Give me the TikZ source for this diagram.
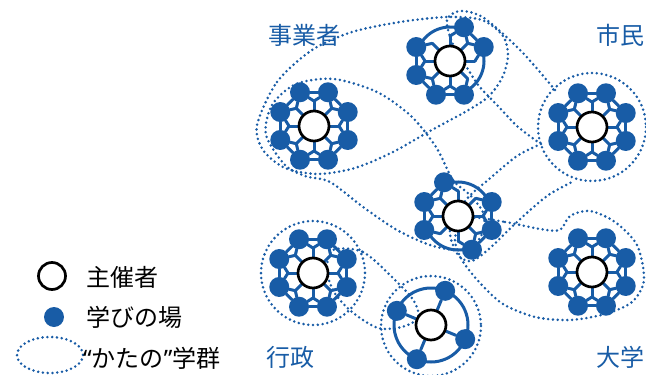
\documentclass[tikz,border=0pt]{standalone}
\usepackage{fontspec}
\setmainfont{Noto Sans CJK JP}
\newfontfamily\latinq{Noto Sans}
\definecolor{blue1}{RGB}{24,92,166}
\begin{document}
\begin{tikzpicture}[x=1pt,y=-1pt,
  dot/.style={circle, fill=blue1, inner sep=0pt, minimum size=20pt},
  hub/.style={circle, fill=white, draw=black, line width=2.7pt, inner sep=0pt, minimum size=30pt},
  web/.style={draw=blue1, line width=3pt, line cap=round, line join=round},
  grp/.style={draw=blue1, line width=2.8pt, line cap=round, dash pattern=on 0pt off 4.8pt},
  lab/.style={text=blue1, font=\fontsize{24}{26}\selectfont, inner sep=0pt},
  leg/.style={text=black, font=\fontsize{24}{26}\selectfont, inner sep=0pt, anchor=west},
  pics/web/.style 2 args={code={
    \coordinate (-o) at (0,0);
    \foreach \k in {0,...,7}{
      \pgfmathtruncatemacro\qa{(\k!=#1)&&(\k!=#2)}
      \ifnum\qa=1 \node[dot] (-d\k) at ({-22.5-45*\k}:36.5) {};\fi
      \coordinate (-p\k) at ({-45*\k}:25);
    }
    \foreach \k in {0,...,7}{
      \pgfmathtruncatemacro\qj{mod(\k+1,8)}
      \pgfmathtruncatemacro\qi{mod(\k+7,8)}
      \pgfmathtruncatemacro\qa{(\k!=#1)&&(\k!=#2)}
      \pgfmathtruncatemacro\qb{(\qj!=#1)&&(\qj!=#2)}
      \pgfmathtruncatemacro\qc{(\qi!=#1)&&(\qi!=#2)}
      \ifnum\qa=1
        \ifnum\qb=1
          \draw[web] (-d\k) -- (-d\qj);
        \else
          \draw[web] ({-22.5-45*\k}:34) arc[start angle={-22.5-45*\k}, delta angle=-90, radius=34];
        \fi
        \draw[web] (-p\k) -- (-d\k);
      \fi
      \ifnum\qc=1 \draw[web] (-p\k) -- (-d\qi);\fi
      \draw[web] (-o) -- (-p\k);
    }
    \node[hub] (-c) at (0,0) {};
  }},
  pics/quad/.style={code={
    \coordinate (-o) at (0,0);
    \draw[web] (0,0) circle[radius=37];
    \foreach \k in {1,3,5,7}{
      \node[dot] (-d\k) at ({-22.5-45*\k}:37) {};
      \draw[web] (-o) -- (-d\k);
    }
    \node[hub] (-c) at (0,0) {};
  }}
]
\useasboundingbox (0,0) rectangle (646,375);

% "katano" groups (dotted outlines)
\draw[grp] plot[smooth cycle] coordinates {(257,125) (277,82) (312,50) (352,32) (400,22) (447,17) (482,20) (503,36) (508,56) (502,78) (488,97) (465,112) (430,131) (393,152) (355,168) (318,174) (285,168) (263,150)};
\draw[grp] plot[smooth cycle] coordinates {(266,135) (272,105) (296,84) (334,79) (377,92) (411,116) (436,147) (453,180) (470,195) (484,215) (480,238) (460,250) (430,245) (397,230) (363,207) (330,182) (305,176) (285,165)};
\draw[grp] (592,127) circle[radius=54];
\draw[grp] plot[smooth] coordinates {(555,90) (522,52) (484,18) (460,11) (447,20) (452,42) (466,66) (479,86) (497,105) (517,126) (538,142)};
\draw[grp] plot[smooth] coordinates {(541,144) (517,156) (488,180) (466,200) (450,230) (458,255) (472,261) (490,248) (518,221) (547,196) (572,182)};
\draw[grp] plot[smooth cycle] coordinates {(468,218) (505,222) (540,229) (560,230) (570,216) (590,211) (615,222) (637,245) (644,280) (632,302) (605,314) (570,320) (535,317) (503,304) (480,283) (462,260) (455,238)};
\draw[grp] (313,273) circle[radius=52];
\draw[grp] (431,326) circle[radius=50];
\draw[grp] plot[smooth cycle] coordinates {(333,250) (363,252) (394,279) (414,301) (418,318) (402,327) (378,328) (352,312) (334,292) (327,270)};

% clusters
\pic (J) at (314,126) {web={8}{9}};
\pic (T) at (450,61) {web={2}{7}};
\pic (S) at (592,127) {web={8}{9}};
\pic (C) at (458,216) {web={1}{5}};
\pic (D) at (592,272) {web={8}{9}};
\pic (G) at (313,273) {web={8}{9}};
\pic (B) at (431,325) {quad};

% sector labels
\node[lab] (lj) at (304,35) {事業者};
\node[lab] (ls) at (620,35) {市民};
\node[lab] (ld) at (620,357) {大学};
\node[lab] (lg) at (290,357) {行政};

% legend
\node[hub, minimum size=27pt] (k1) at (52,276) {};
\node[dot] (k2) at (54,317) {};
\draw[grp] (50,355) ellipse[x radius=33, y radius=18];
\node[leg] (t1) at (86,277) {主催者};
\node[leg] (t2) at (86,317) {学びの場};
\node[leg] (t3) at (83,358) {{\latinq “}かたの{\latinq ”}学群};
\end{tikzpicture}
\end{document}
